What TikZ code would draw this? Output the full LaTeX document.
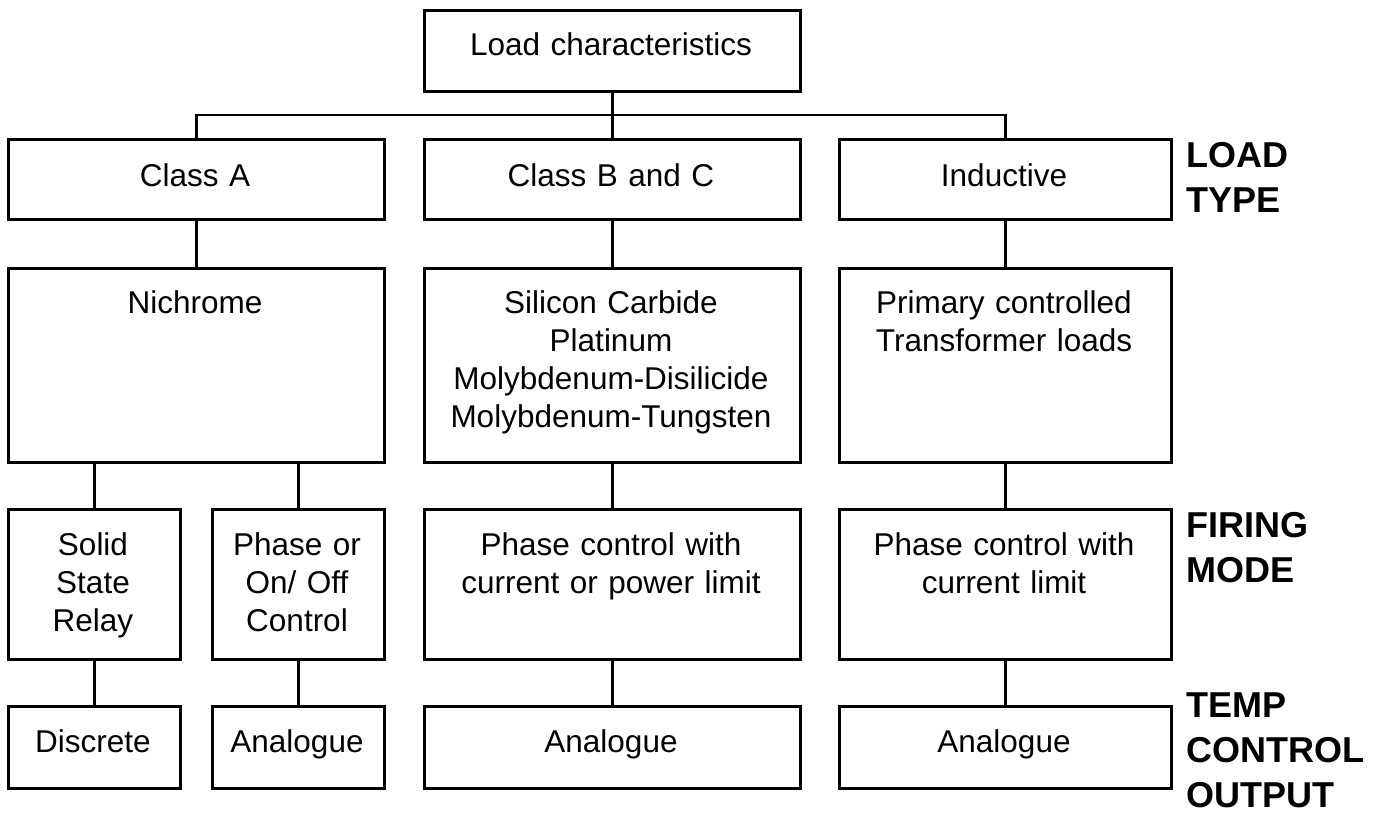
\documentclass[tikz,border=0pt]{standalone}
\usepackage{fontspec}
\setmainfont{Liberation Sans}
\begin{document}
\begin{tikzpicture}[x=1pt,y=-1pt,
  box/.style={draw=black, line width=2.6pt, rectangle, inner sep=0pt, anchor=north west},
  txt/.style={inner sep=0pt, anchor=base, align=center, font=\fontsize{31.5}{38.3}\selectfont},
  lbl/.style={inner sep=0pt, anchor=base west, align=left, text width=195pt, font=\fontsize{36}{45}\selectfont\bfseries},
  conn/.style={draw=black, line width=2.8pt}]
\useasboundingbox (0,0) rectangle (1383,812);
% boxes
\node[box, minimum width=376pt, minimum height=81pt] (top) at (423,9) {};
\node[box, minimum width=376pt, minimum height=80pt] (ca) at (7,138) {};
\node[box, minimum width=376pt, minimum height=80pt] (cb) at (423,138) {};
\node[box, minimum width=332pt, minimum height=80pt] (cc) at (838,138) {};
\node[box, minimum width=376pt, minimum height=194pt] (ma) at (7,267) {};
\node[box, minimum width=376pt, minimum height=194pt] (mb) at (423,267) {};
\node[box, minimum width=332pt, minimum height=194pt] (mc) at (838,267) {};
\node[box, minimum width=172pt, minimum height=150pt] (fa1) at (7,508) {};
\node[box, minimum width=172pt, minimum height=150pt] (fa2) at (211,508) {};
\node[box, minimum width=376pt, minimum height=150pt] (fb) at (423,508) {};
\node[box, minimum width=332pt, minimum height=150pt] (fc) at (838,508) {};
\node[box, minimum width=172pt, minimum height=82pt] (oa1) at (7,705) {};
\node[box, minimum width=172pt, minimum height=82pt] (oa2) at (211,705) {};
\node[box, minimum width=376pt, minimum height=82pt] (ob) at (423,705) {};
\node[box, minimum width=332pt, minimum height=82pt] (oc) at (838,705) {};
% texts
\node[txt, text width=360pt] (top-t) at (611,55) {Load characteristics};
\node[txt, text width=360pt] (ca-t) at (195,186) {Class A};
\node[txt, text width=360pt] (cb-t) at (611,186) {Class B and C};
\node[txt, text width=320pt] (cc-t) at (1004,186) {Inductive};
\node[txt, text width=360pt] (ma-t) at (195,313) {Nichrome};
\node[txt, text width=360pt] (mb-t) at (611,313) {Silicon Carbide\\Platinum\\Molybdenum-Disilicide\\Molybdenum-Tungsten};
\node[txt, text width=320pt] (mc-t) at (1004,313) {Primary controlled\\Transformer loads};
\node[txt, text width=165pt] (fa1-t) at (93,555) {Solid\\State\\Relay};
\node[txt, text width=165pt] (fa2-t) at (297,555) {Phase or\\On/ Off\\Control};
\node[txt, text width=360pt] (fb-t) at (611,555) {Phase control with\\current or power limit};
\node[txt, text width=320pt] (fc-t) at (1004,555) {Phase control with\\current limit};
\node[txt, text width=165pt] (oa1-t) at (93,752) {Discrete};
\node[txt, text width=165pt] (oa2-t) at (297,752) {Analogue};
\node[txt, text width=360pt] (ob-t) at (611,752) {Analogue};
\node[txt, text width=320pt] (oc-t) at (1004,752) {Analogue};
% side labels
\node[lbl] (l1) at (1186,167) {LOAD\\TYPE};
\node[lbl] (l2) at (1186,537) {FIRING\\MODE};
\node[lbl] (l3) at (1186,717) {TEMP\\CONTROL\\OUTPUT};
% connectors
\coordinate (bus) at (611,115);
\draw[conn] (top.south) -- (cb.north);
\draw[conn] (ca.north) |- (bus) -| (cc.north);
\draw[conn] (ca.south) -- (ma.north);
\draw[conn] (cb.south) -- (mb.north);
\draw[conn] (cc.south) -- (mc.north);
\draw[conn] (fa1.north) -- (fa1.north |- ma.south);
\draw[conn] (fa2.north) -- (fa2.north |- ma.south);
\draw[conn] (mb.south) -- (fb.north);
\draw[conn] (mc.south) -- (fc.north);
\draw[conn] (fa1.south) -- (oa1.north);
\draw[conn] (fa2.south) -- (oa2.north);
\draw[conn] (fb.south) -- (ob.north);
\draw[conn] (fc.south) -- (oc.north);
\end{tikzpicture}
\end{document}
